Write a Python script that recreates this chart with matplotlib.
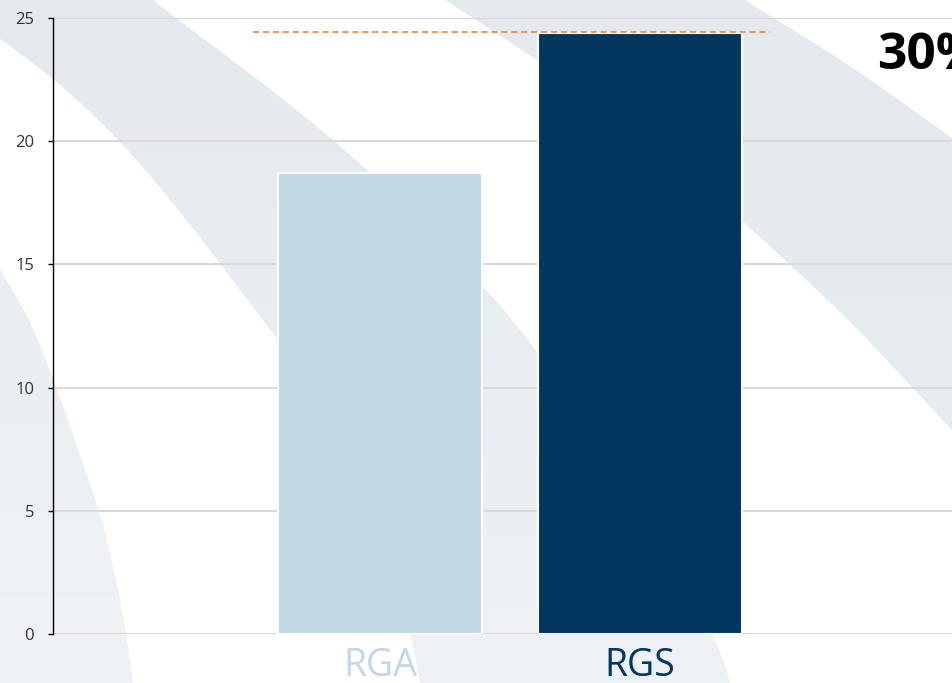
import matplotlib
matplotlib.use("Agg")
import matplotlib.pyplot as plt
import numpy as np
from matplotlib.path import Path
from matplotlib.patches import PathPatch
from matplotlib.colors import LinearSegmentedColormap

# ---- data ----
categories = ["RGA", "RGS"]
values = [18.7, 24.4]
bar_colors = ["#c1d8e5", "#03365f"]
y_ticks = [0, 5, 10, 15, 20, 25]

plt.rcParams['font.family'] = ['Open Sans', 'DejaVu Sans']

W, H = 952, 683
fig = plt.figure(figsize=(W / 100, H / 100), dpi=100)
fig.patch.set_facecolor("white")

# ---- decorative background swooshes (figure pixel space) ----
bg = fig.add_axes([0, 0, 1, 1], zorder=0)
bg.set_xlim(0, W)
bg.set_ylim(H, 0)
bg.axis("off")


def smooth_edge(pts, first_code):
    """Cubic Bezier path segments through pts (Catmull-Rom style)."""
    p = np.asarray(pts, float)
    verts = [tuple(p[0])]
    codes = [first_code]
    n = len(p)
    for i in range(n - 1):
        p0 = p[i - 1] if i > 0 else p[i]
        p1, p2 = p[i], p[i + 1]
        p3 = p[i + 2] if i + 2 < n else p[i + 1]
        c1 = p1 + (p2 - p0) / 6.0
        c2 = p2 - (p3 - p1) / 6.0
        verts += [tuple(c1), tuple(c2), tuple(p2)]
        codes += [Path.CURVE4] * 3
    return verts, codes


def band(edge_a, edge_b, c_top, c_bot, y0, y1):
    va, ca = smooth_edge(edge_a, Path.MOVETO)
    vb, cb = smooth_edge(edge_b, Path.LINETO)
    verts = va + vb + [va[0]]
    codes = ca + cb + [Path.CLOSEPOLY]
    patch = PathPatch(Path(verts, codes), facecolor="none", edgecolor="none")
    bg.add_patch(patch)
    cmap = LinearSegmentedColormap.from_list("g", [c_top, c_bot])
    grad = np.linspace(0, 1, 256).reshape(-1, 1)
    im = bg.imshow(grad, cmap=cmap, extent=[-80, W + 80, y1, y0],
                   aspect="auto", interpolation="bilinear", zorder=0)
    im.set_clip_path(patch)


# band 1 (top-left to bottom-middle)
band([(110, -40), (153, 0), (280, 97), (370, 173), (483, 287), (537, 352),
      (600, 440), (660, 535), (713, 637), (730, 683), (738, 740)],
     [(425, 740), (420, 683), (395, 570), (360, 475), (320, 400), (277, 339),
      (240, 290), (180, 212), (120, 142), (60, 85), (0, 39), (-50, 5)],
     "#e4e9ed", "#eef2f5", 0, H)

# band 2 (top-middle to right edge)
band([(690, -40), (745, 0), (850, 66), (952, 138), (1010, 180)],
     [(1010, 490), (952, 430), (850, 322), (740, 219), (640, 132), (537, 60),
      (445, 0), (385, -40)],
     "#e4e9ed", "#e7ecef", 0, 450)

# band 4 (left, lower)
band([(-30, 215), (0, 269), (30, 322), (55, 385), (80, 455), (103, 525),
      (121, 605), (133, 683), (137, 740)],
     [(-60, 740), (-60, 215)],
     "#e9eef1", "#eff3f6", 250, H)

# ---- main chart ----
ax = fig.add_axes([53 / W, 1 - 634 / H, (W - 53) / W, (634 - 18) / H], zorder=1)
ax.set_facecolor("none")
x = np.arange(len(categories))
ax.bar(x, values, width=0.785, color=bar_colors, edgecolor="white",
       linewidth=1.5, zorder=3)

ax.set_xlim(-1.258, 2.2)
ax.set_ylim(0, 25)
ax.set_yticks(y_ticks)
ax.set_yticklabels([str(t) for t in y_ticks], fontsize=12, color="#333333")
ax.yaxis.grid(True, color="#d9d9d9", linewidth=1.5, zorder=1)
ax.set_axisbelow(True)
ax.tick_params(axis="y", length=3.6, width=1, color="black", pad=10)

ax.set_xticks(x)
ax.set_xticklabels(categories, fontsize=27)
for lbl, c in zip(ax.get_xticklabels(), bar_colors):
    lbl.set_color(c)
ax.tick_params(axis="x", length=0, pad=9)

for s in ["top", "right", "bottom"]:
    ax.spines[s].set_visible(False)
ax.spines["left"].set_color("black")
ax.spines["left"].set_linewidth(1.0)
ax.spines["left"].set_zorder(4)

# reference dashed line at the highest value
top_val = max(values)
ax.hlines(top_val + 0.05, x[0] - 0.49, x[-1] + 0.5, colors="#f07b26",
          linestyles=(0, (4, 2.5)), linewidth=1.1, zorder=4)

growth = (values[1] / values[0] - 1) * 100
fig.text(877 / W, 1 - 56 / H, f"{growth:.0f}%", fontsize=37,
         fontweight="bold", color="black", ha="left", va="center")

fig.savefig("out.png", dpi=100, facecolor="white")
